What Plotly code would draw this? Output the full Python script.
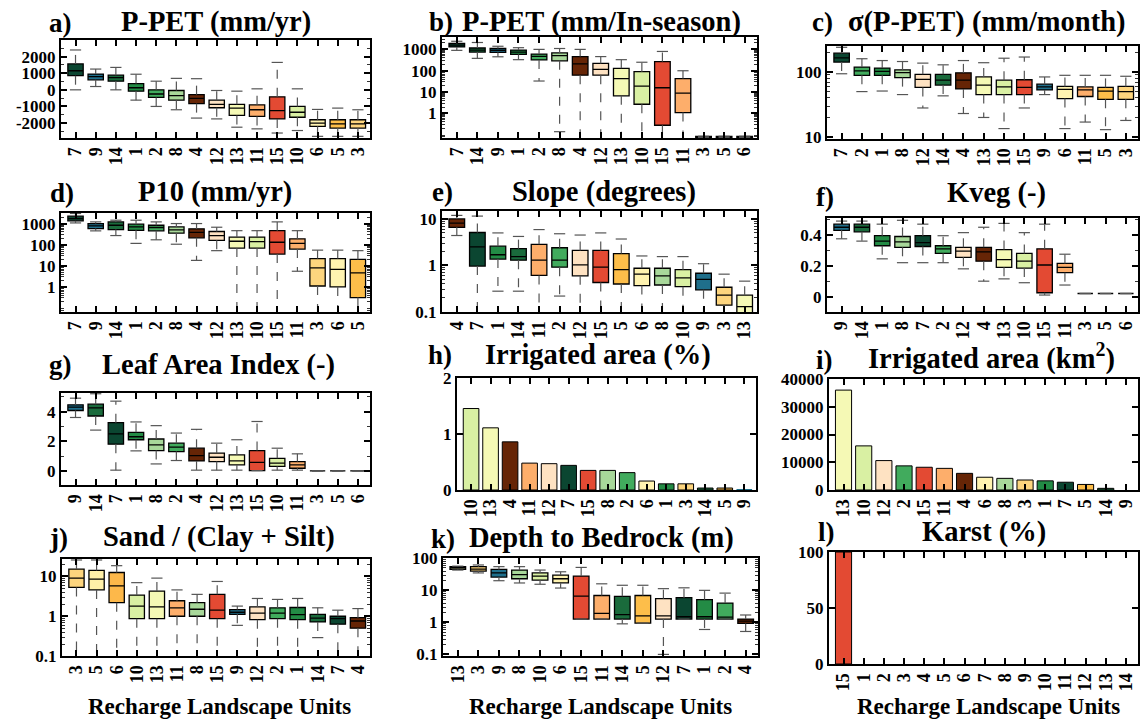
import math
import plotly.graph_objects as go

FONT = "Liberation Serif"
W, H = 1143, 720

# ---------------- colours per Recharge Landscape Unit ----------------
UNIT_COLORS = {1: '#238b45', 2: '#41ab5d', 3: '#fdd57e', 4: '#662506', 5: '#fdbe4a',
               6: '#fff3b0', 7: '#0b4631', 8: '#a8d89a', 9: '#1f6f8b', 10: '#d9f0a3',
               11: '#fdae6b', 12: '#fee2c2', 13: '#f5f9b5', 14: '#1a6b3c', 15: '#e34a33'}

# ---------------- a) P-PET (mm/yr) ----------------
a_units = [7, 9, 14, 1, 2, 8, 4, 12, 13, 11, 15, 10, 6, 5, 3]
a_lower = [0, 200, 0, -620, -1000, -1200, -1700, -1750, -2250, -2350, -2600, -2450, -2800, -2800, -2800]
a_q1 = [850, 600, 520, -80, -460, -620, -830, -1080, -1540, -1600, -1750, -1650, -2200, -2300, -2300]
a_med = [1150, 790, 730, 125, -250, -350, -520, -870, -1100, -1200, -1250, -1350, -2000, -2050, -2050]
a_q3 = [1560, 950, 880, 375, 0, -40, -290, -620, -870, -900, -420, -1000, -1800, -1800, -1800]
a_upper = [2400, 1250, 1350, 940, 520, 690, 670, -40, -80, 60, 1650, 60, -1180, -1100, -1200]

# ---------------- b) P-PET (mm/In-season) ----------------
b_units = [7, 14, 9, 1, 2, 8, 4, 12, 13, 10, 15, 11, 3, 5, 6]
b_lower = [900, 380, 450, 330, 33, 0.14, 0.01, 0.01, 0.01, 0.01, 0.01, 0.01, 0.075, 0.075, 0.075]
b_q1 = [1300, 750, 720, 580, 320, 290, 62, 62, 6.7, 2.7, 0.28, 1.1, 0.075, 0.075, 0.075]
b_med = [1600, 930, 900, 750, 470, 510, 210, 115, 43, 19, 16, 9, 0.08, 0.08, 0.08]
b_q3 = [1900, 1160, 1100, 930, 600, 680, 460, 220, 130, 90, 270, 43, 0.085, 0.085, 0.085]
b_upper = [2400, 2100, 1400, 1200, 1000, 1100, 1000, 460, 330, 250, 800, 100, 0.085, 0.085, 0.085]

# ---------------- c) sigma(P-PET) (mm/month) ----------------
c_units = [7, 2, 1, 8, 12, 14, 4, 13, 10, 15, 9, 6, 11, 5, 3]
c_lower = [94, 50, 51, 45, 28, 43, 23, 20, 13.5, 28, 45, 13.5, 17, 13, 18]
c_q1 = [142, 89, 89, 82, 58, 63, 55, 45, 45, 45, 53, 39, 42, 38, 38]
c_med = [165, 104, 102, 98, 77, 75, 75, 63, 59, 58, 59, 54, 53, 51, 50]
c_q3 = [195, 119, 115, 108, 92, 92, 97, 84, 75, 76, 65, 60, 59, 58, 60]
c_upper = [240, 160, 150, 145, 137, 129, 150, 139, 163, 170, 84, 89, 89, 89, 86]

# ---------------- d) P10 (mm/yr) ----------------
d_units = [7, 9, 14, 1, 2, 8, 4, 12, 13, 10, 15, 11, 3, 6, 5]
d_lower = [1070, 450, 270, 115, 170, 105, 18, 52, 0.01, 0.01, 0.01, 5.5, 0.01, 0.01, 0.01]
d_q1 = [1340, 580, 520, 480, 450, 350, 210, 160, 69, 69, 36, 62, 1.1, 1.0, 0.31]
d_med = [1730, 775, 830, 690, 650, 500, 380, 270, 145, 140, 130, 115, 8, 6.7, 4.6]
d_q3 = [2230, 1000, 1200, 930, 830, 690, 560, 420, 230, 230, 460, 190, 22, 22, 20]
d_upper = [3000, 1200, 1440, 1440, 1200, 1000, 1000, 670, 460, 460, 1200, 460, 55, 55, 52]

# ---------------- e) Slope (degrees) ----------------
e_units = [4, 7, 1, 14, 11, 2, 12, 15, 5, 6, 8, 10, 9, 3, 13]
e_lower = [4.4, 0.05, 0.28, 0.28, 0.05, 0.22, 0.05, 0.05, 0.05, 0.05, 0.05, 0.05, 0.05, 0.05, 0.05]
e_q1 = [6.6, 0.97, 1.37, 1.3, 0.61, 0.92, 0.6, 0.43, 0.4, 0.37, 0.38, 0.35, 0.3, 0.14, 0.09]
e_med = [8.1, 2.5, 1.7, 1.55, 1.3, 1.3, 1.03, 0.92, 0.81, 0.65, 0.6, 0.54, 0.5, 0.23, 0.13]
e_q3 = [10, 5.1, 2.6, 2.3, 2.85, 2.4, 2.1, 2.1, 1.8, 0.87, 0.87, 0.81, 0.68, 0.34, 0.23]
e_upper = [11.9, 11.5, 5, 4.2, 5.9, 4.8, 4.5, 5, 3.7, 1.6, 1.55, 1.55, 1.09, 0.65, 0.46]

# ---------------- f) Kveg (-) ----------------
f_units = [9, 14, 1, 8, 7, 2, 12, 4, 13, 10, 15, 11, 3, 5, 6]
f_lower = [0.375, 0.36, 0.245, 0.22, 0.22, 0.22, 0.18, 0.10, 0.115, 0.09, 0.01, 0.075, 0.02, 0.02, 0.02]
f_q1 = [0.43, 0.42, 0.33, 0.32, 0.325, 0.28, 0.255, 0.23, 0.19, 0.185, 0.025, 0.155, 0.02, 0.02, 0.02]
f_med = [0.45, 0.45, 0.36, 0.355, 0.35, 0.31, 0.295, 0.29, 0.24, 0.23, 0.205, 0.19, 0.02, 0.02, 0.02]
f_q3 = [0.47, 0.47, 0.395, 0.39, 0.395, 0.33, 0.32, 0.32, 0.305, 0.28, 0.31, 0.215, 0.02, 0.02, 0.02]
f_upper = [0.49, 0.49, 0.47, 0.495, 0.47, 0.395, 0.415, 0.45, 0.475, 0.415, 0.47, 0.275, 0.02, 0.02, 0.02]

# ---------------- g) Leaf Area Index (-) ----------------
g_units = [9, 14, 7, 1, 8, 2, 4, 12, 13, 15, 10, 11, 3, 5, 6]
g_lower = [3.6, 2.75, 0.05, 1.35, 0.47, 0.7, 0.05, 0.05, 0.05, 0.02, 0.05, 0.05, 0, 0, 0]
g_q1 = [4.07, 3.7, 1.8, 2.1, 1.37, 1.3, 0.67, 0.63, 0.4, 0.02, 0.3, 0.18, 0, 0, 0]
g_med = [4.3, 4.25, 2.5, 2.3, 1.75, 1.6, 1.03, 0.92, 0.67, 0.58, 0.52, 0.4, 0, 0, 0]
g_q3 = [4.45, 4.5, 3.25, 2.6, 2.15, 1.87, 1.53, 1.2, 1.08, 1.37, 0.85, 0.63, 0, 0, 0]
g_upper = [4.9, 5.2, 4.7, 3.3, 3.05, 2.55, 2.8, 1.87, 2.1, 3.33, 1.53, 1.15, 0, 0, 0]

# ---------------- h) Irrigated area (%) ----------------
h_units = [10, 13, 4, 11, 12, 7, 15, 8, 2, 6, 1, 3, 14, 5, 9]
h_vals = [1.455, 1.11, 0.86, 0.48, 0.47, 0.44, 0.35, 0.35, 0.31, 0.16, 0.11, 0.11, 0.035, 0.035, 0.005]

# ---------------- i) Irrigated area (km2) ----------------
i_units = [13, 10, 12, 2, 15, 11, 4, 6, 8, 3, 1, 7, 5, 14, 9]
i_vals = [36000, 15900, 10600, 8700, 8200, 7800, 6000, 4600, 4200, 3600, 3300, 2800, 2000, 600, 0]

# ---------------- j) Sand / (Clay + Silt) ----------------
j_units = [3, 5, 6, 10, 13, 11, 8, 15, 9, 12, 2, 1, 14, 7, 4]
j_lower = [0.05, 0.05, 0.05, 0.05, 0.05, 0.05, 0.05, 0.05, 0.59, 0.05, 0.05, 0.05, 0.29, 0.05, 0.05]
j_q1 = [5.3, 4.6, 2.2, 0.87, 0.87, 1.0, 1.0, 0.87, 1.12, 0.82, 0.87, 0.82, 0.72, 0.63, 0.5]
j_med = [9.1, 8.6, 5.8, 1.8, 1.73, 1.63, 1.5, 1.42, 1.26, 1.2, 1.2, 1.1, 0.9, 0.87, 0.76]
j_q3 = [15.4, 14.2, 12.6, 3.4, 4.3, 2.45, 2.2, 3.55, 1.47, 1.73, 1.63, 1.66, 1.12, 1.0, 0.92]
j_upper = [26, 26, 18.7, 7, 9.1, 4.6, 3.55, 7.5, 1.8, 2.8, 2.65, 2.8, 1.63, 1.42, 1.56]
j_color_override = {5: '#fff0a8', 6: '#fdb84a'}

# ---------------- k) Depth to Bedrock (m) ----------------
k_units = [13, 3, 9, 8, 10, 6, 15, 11, 14, 5, 12, 7, 1, 2, 4]
k_lower = [43, 35, 20, 17, 15.5, 11.8, 1.27, 1.27, 0.9, 0.95, 0.1, 1.27, 0.6, 1.27, 0.52]
k_q1 = [45, 40, 26, 23, 21, 17, 1.27, 1.27, 1.27, 0.95, 1.27, 1.27, 1.27, 1.27, 0.93]
k_med = [50, 46, 35, 31, 28, 23, 6.6, 1.9, 1.75, 1.6, 1.6, 1.5, 1.5, 1.45, 1.1]
k_q3 = [55, 55, 45, 43, 35, 30, 28, 6.9, 6.5, 6.9, 5.5, 5.9, 5.1, 4.0, 1.27]
k_upper = [57, 62, 55, 55, 43, 38, 52, 16, 14.4, 14.4, 11.3, 12, 10, 8.2, 1.7]

# ---------------- l) Karst (%) ----------------
l_units = [15, 1, 2, 3, 4, 5, 6, 7, 8, 9, 10, 11, 12, 13, 14]
l_vals = [100, 0, 0, 0, 0, 0, 0, 0, 0, 0, 0, 0, 0, 0, 0]

# ---------------- titles / ticks ----------------
titles = ['P-PET (mm/yr)', 'P-PET (mm/In-season)', 'σ(P-PET) (mm/month)',
          'P10 (mm/yr)', 'Slope (degrees)', 'Kveg (-)',
          'Leaf Area Index (-)', 'Irrigated area (%)', 'Irrigated area (km<sup>2</sup>)',
          'Sand / (Clay + Silt)', 'Depth to Bedrock (m)', 'Karst (%)']
letters = ['a)', 'b)', 'c)', 'd)', 'e)', 'f)', 'g)', 'h)', 'i)', 'j)', 'k)', 'l)']
xlabel = 'Recharge Landscape Units'

a_ticks = [-2000, -1000, 0, 1000, 2000]
a_ticktext = ['-2000', '-1000', '0', '1000', '2000']
b_ticks = [1, 10, 100, 1000]
c_ticks = [10, 100]
d_ticks = [1, 10, 100, 1000]
e_ticks = [0.1, 1, 10]
f_ticks = [0, 0.2, 0.4]
g_ticks = [0, 2, 4]
h_ticks = [0, 1, 2]
i_ticks = [0, 10000, 20000, 30000, 40000]
j_ticks = [0.1, 1, 10]
k_ticks = [0.1, 1, 10, 100]
l_ticks = [0, 50, 100]

# ---------------- geometry (pixel boxes of plot areas) ----------------
boxes_px = [(61, 370, 40, 138), (442, 757, 37, 138), (827, 1138, 46, 139),
            (61, 370, 213, 312), (442, 757, 211, 312), (827, 1138, 218, 312),
            (61, 370, 393, 485), (457, 756, 378, 490), (829, 1138, 379, 490),
            (62, 370, 559, 656), (443, 758, 558, 656), (829, 1138, 552, 664)]
title_px = [(216, 22), (601, 22), (987, 22), (215, 192), (604, 192), (996, 193),
            (218, 365), (598, 355), (991, 356), (219, 537), (601, 538), (984, 532)]
letter_px = [(60, 23), (441, 22), (822, 22), (62, 193), (442, 192), (825, 197),
             (60, 365), (440, 355), (824, 360), (58, 538), (443, 539), (826, 532)]
xlabel_px = [(219, 706), (600, 706), (988, 706)]

fig = go.Figure()
WH_COLOR = '#555555'


def ax_names(i):
    return ('x' if i == 1 else f'x{i}'), ('y' if i == 1 else f'y{i}')


def add_box_panel(idx, units, lower, q1, med, q3, upper, override=None):
    xa, ya = ax_names(idx)
    cats = [str(u) for u in units]
    wx, wy = [], []
    for c, lo, a, b, hi in zip(cats, lower, q1, q3, upper):
        wx += [c, c, None, c, c, None]
        wy += [b, hi, None, a, lo, None]
    fig.add_trace(go.Scatter(x=wx, y=wy, mode='lines', xaxis=xa, yaxis=ya,
                             line=dict(color=WH_COLOR, width=1.2, dash='dash'),
                             hoverinfo='skip', showlegend=False))
    fig.add_trace(go.Scatter(x=cats + cats, y=list(upper) + list(lower), mode='markers',
                             xaxis=xa, yaxis=ya, hoverinfo='skip', showlegend=False,
                             marker=dict(symbol='line-ew', size=8,
                                         line=dict(color=WH_COLOR, width=1.2))))
    for u, c, a, m, b in zip(units, cats, q1, med, q3):
        col = UNIT_COLORS[u]
        if override and u in override:
            col = override[u]
        fig.add_trace(go.Box(x=[c], q1=[a], median=[m], q3=[b], lowerfence=[a], upperfence=[b],
                             orientation='v', fillcolor=col, boxpoints=False, whiskerwidth=0,
                             line=dict(color='black', width=1.3), width=0.76,
                             xaxis=xa, yaxis=ya, showlegend=False, hoverinfo='skip'))
    return cats


def add_bar_panel(idx, units, vals):
    xa, ya = ax_names(idx)
    cats = [str(u) for u in units]
    fig.add_trace(go.Bar(x=cats, y=vals, xaxis=xa, yaxis=ya, width=0.8,
                         marker=dict(color=[UNIT_COLORS[u] for u in units],
                                     line=dict(color='black',
                                               width=[1 if v > 0.01 else 0 for v in vals])),
                         showlegend=False, hoverinfo='skip'))
    return cats


cats_list = [
    add_box_panel(1, a_units, a_lower, a_q1, a_med, a_q3, a_upper),
    add_box_panel(2, b_units, b_lower, b_q1, b_med, b_q3, b_upper),
    add_box_panel(3, c_units, c_lower, c_q1, c_med, c_q3, c_upper),
    add_box_panel(4, d_units, d_lower, d_q1, d_med, d_q3, d_upper),
    add_box_panel(5, e_units, e_lower, e_q1, e_med, e_q3, e_upper),
    add_box_panel(6, f_units, f_lower, f_q1, f_med, f_q3, f_upper),
    add_box_panel(7, g_units, g_lower, g_q1, g_med, g_q3, g_upper),
    add_bar_panel(8, h_units, h_vals),
    add_bar_panel(9, i_units, i_vals),
    add_box_panel(10, j_units, j_lower, j_q1, j_med, j_q3, j_upper, j_color_override),
    add_box_panel(11, k_units, k_lower, k_q1, k_med, k_q3, k_upper),
    add_bar_panel(12, l_units, l_vals),
]

# y axis settings: (type, range, tickvals, ticktext, minor dtick)
yspec = [
    ('linear', [-2900, 3000], a_ticks, a_ticktext, 500),
    ('log', [-1.15, 3.58], b_ticks, [str(v) for v in b_ticks], 'log'),
    ('log', [0.97, 2.40], c_ticks, [str(v) for v in c_ticks], 'log'),
    ('log', [-1.19, 3.5], d_ticks, [str(v) for v in d_ticks], 'log'),
    ('log', [-1.0, 1.17], e_ticks, [str(v) for v in e_ticks], 'log'),
    ('linear', [-0.1, 0.51], f_ticks, ['0', '0.2', '0.4'], 0.1),
    ('linear', [-0.95, 5.25], g_ticks, [str(v) for v in g_ticks], 1),
    ('linear', [0, 2], h_ticks, [str(v) for v in h_ticks], None),
    ('linear', [0, 40000], i_ticks, [str(v) for v in i_ticks], None),
    ('log', [-1.0, 1.44], j_ticks, [str(v) for v in j_ticks], 'log'),
    ('log', [-1.05, 2.01], k_ticks, [str(v) for v in k_ticks], 'log'),
    ('linear', [0, 100], l_ticks, [str(v) for v in l_ticks], None),
]


def log_minor_positions(rng):
    lo, hi = rng
    out = []
    for e in range(int(math.floor(lo)) - 1, int(math.ceil(hi)) + 1):
        for m in (2, 3, 4, 5, 6, 7, 8, 9):
            v = m * 10.0 ** e
            if lo <= math.log10(v) <= hi:
                out.append(v)
    return out


xtickfont = dict(family=FONT, size=18, color='black', weight='bold')
ytickfont = dict(family=FONT, size=17, color='black', weight='bold')
layout = dict(width=W, height=H, margin=dict(l=0, r=0, t=0, b=0, autoexpand=False),
              paper_bgcolor='white', plot_bgcolor='white', boxmode='overlay',
              bargap=0.2, showlegend=False)

for i, ((x0, x1, y0, y1), cats, ys) in enumerate(zip(boxes_px, cats_list, yspec), start=1):
    xkey = 'xaxis' if i == 1 else f'xaxis{i}'
    ykey = 'yaxis' if i == 1 else f'yaxis{i}'
    xa, ya = ax_names(i)
    layout[xkey] = dict(domain=[x0 / W, x1 / W], anchor=ya, type='category', automargin=False,
                        categoryorder='array', categoryarray=cats, range=[-0.72, 14.6],
                        tickmode='array', tickvals=cats, ticktext=cats,
                        showline=True, linecolor='black', linewidth=2, mirror='ticks',
                        ticks='inside', ticklen=6, tickwidth=1.5, tickcolor='black',
                        tickangle=-90, tickfont=xtickfont, showgrid=False, zeroline=False)
    typ, rng, tv, tt, minor = ys
    yd = dict(domain=[1 - y1 / H, 1 - y0 / H], anchor=xa, type=typ, range=rng, automargin=False,
              tickmode='array', tickvals=tv, ticktext=tt,
              showline=True, linecolor='black', linewidth=2, mirror='ticks',
              ticks='inside', ticklen=6, tickwidth=1.5, tickcolor='black',
              tickfont=ytickfont, showgrid=False, zeroline=False)
    if minor == 'log':
        yd['minor'] = dict(ticks='inside', ticklen=3, tickcolor='#333333', tickwidth=0.8,
                           tickmode='array', tickvals=log_minor_positions(rng), showgrid=False)
    elif minor is not None:
        yd['minor'] = dict(ticks='inside', ticklen=3, tickcolor='#333333', tickwidth=0.8,
                           dtick=minor, showgrid=False)
    layout[ykey] = yd

annotations = []
for (tx, ty), t in zip(title_px, titles):
    annotations.append(dict(x=tx / W, y=1 - ty / H, xref='paper', yref='paper', text=t,
                            showarrow=False, xanchor='center', yanchor='middle',
                            font=dict(family=FONT, size=28.5, color='black', weight='bold')))
for (lx, ly), t in zip(letter_px, letters):
    annotations.append(dict(x=lx / W, y=1 - ly / H, xref='paper', yref='paper', text=t,
                            showarrow=False, xanchor='center', yanchor='middle',
                            font=dict(family=FONT, size=27, color='black', weight='bold')))
for (cx, cy) in xlabel_px:
    annotations.append(dict(x=cx / W, y=1 - cy / H, xref='paper', yref='paper', text=xlabel,
                            showarrow=False, xanchor='center', yanchor='middle',
                            font=dict(family=FONT, size=23, color='black', weight='bold')))
layout['annotations'] = annotations

fig.update_layout(**layout)
fig.write_html("out.html")
